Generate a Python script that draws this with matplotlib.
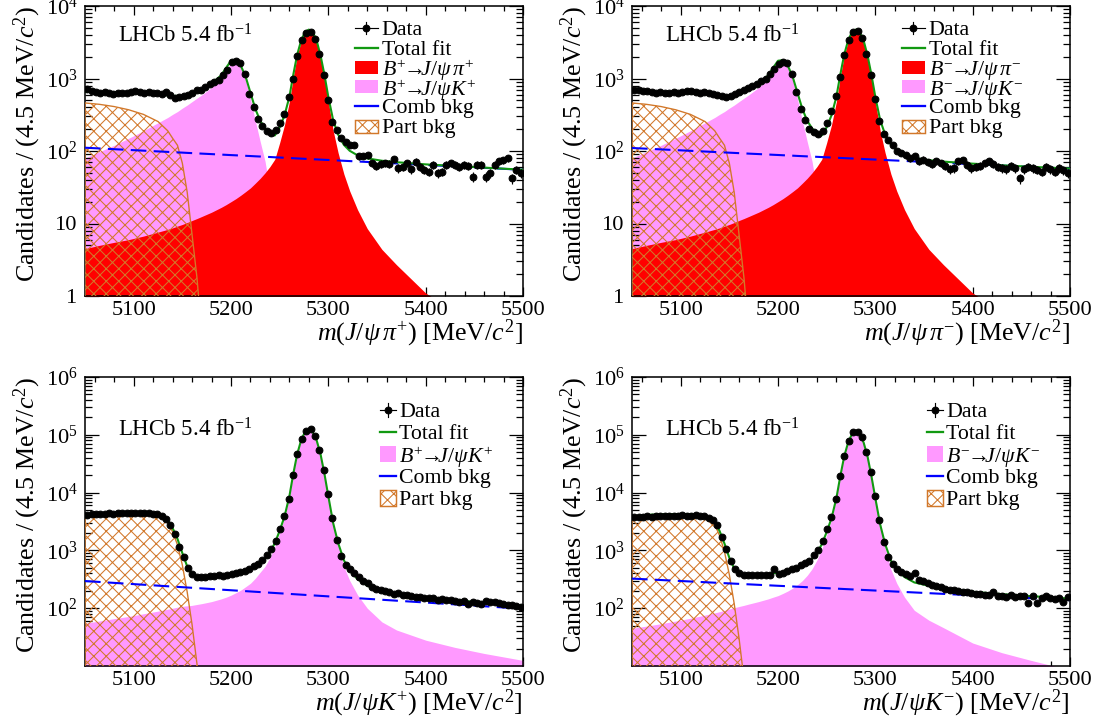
import numpy as np
import matplotlib
matplotlib.use("Agg")
import matplotlib.pyplot as plt
from matplotlib.patches import Rectangle
from matplotlib.lines import Line2D
from matplotlib.ticker import (FixedLocator, FixedFormatter, MultipleLocator,
                               LogLocator, NullFormatter, FormatStrFormatter)

# fonte tipo Times (estilo ROOT / LHCb)
plt.rcParams['font.family'] = ['Liberation Serif', 'DejaVu Serif']
plt.rcParams['mathtext.fontset'] = 'custom'
plt.rcParams['mathtext.rm'] = 'Liberation Serif'
plt.rcParams['mathtext.it'] = 'Liberation Serif:italic'
plt.rcParams['mathtext.bf'] = 'Liberation Serif:bold'
plt.rcParams['hatch.linewidth'] = 1.0
plt.rcParams['lines.scale_dashes'] = False

# ---------------------------------------------------------------
# DADOS
# ---------------------------------------------------------------
bin_width = 4.5
n_bins = 100

# pontos (massa) onde as curvas do ajuste foram lidas
mass_knots = [5050, 5065, 5080, 5095, 5110, 5125, 5135, 5140, 5145, 5150,
              5155, 5160, 5165, 5170, 5180, 5190, 5195, 5200, 5205, 5210,
              5215, 5220, 5225, 5230, 5235, 5240, 5245, 5250, 5255, 5260,
              5264, 5268, 5272, 5276, 5280, 5284, 5288, 5292, 5296, 5300,
              5305, 5310, 5316, 5322, 5330, 5340, 5355, 5370, 5400, 5430,
              5460, 5500]

# --- m(J/psi pi) : componentes comuns aos dois paineis de cima
sig_pi = [4.5, 5.0, 5.5, 6.0, 6.7, 7.6, 8.3, 8.7, 9.2, 9.7,
          10.3, 11.0, 11.7, 12.5, 14.3, 16.7, 18.2, 20, 22, 24.5,
          27.5, 31, 36, 42, 50, 61, 77, 130, 230, 480,
          1050, 2050, 3250, 4300, 4650, 4300, 3250, 2000, 1050, 480,
          190, 95, 48, 28, 15.5, 8.5, 4.4, 2.7, 1.1, 0.6,
          0.37, 0.2]
misid_k = [80, 98, 120, 150, 190, 245, 290, 320, 350, 390,
           430, 480, 535, 595, 750, 1000, 1300, 1650, 1680, 1400,
           950, 520, 260, 135, 72, 28, 5, 0.5, 0, 0,
           0, 0, 0, 0, 0, 0, 0, 0, 0, 0,
           0, 0, 0, 0, 0, 0, 0, 0, 0, 0,
           0, 0]
part_pi = [460, 440, 410, 370, 320, 255, 190, 150, 120, 68,
           27, 7, 1.8, 0.3, 0, 0, 0, 0, 0, 0,
           0, 0, 0, 0, 0, 0, 0, 0, 0, 0,
           0, 0, 0, 0, 0, 0, 0, 0, 0, 0,
           0, 0, 0, 0, 0, 0, 0, 0, 0, 0,
           0, 0]
comb_pip = [111, 108.4, 105.9, 103.5, 101.1, 98.7, 97.2, 96.5, 95.7, 95.0,
            94.2, 93.5, 92.8, 92.0, 90.6, 89.2, 88.5, 87.8, 87.2, 86.5,
            85.8, 85.2, 84.5, 83.9, 83.2, 82.6, 81.9, 81.3, 80.7, 80.0,
            79.5, 79.0, 78.5, 78.0, 77.5, 77.0, 76.6, 76.1, 75.6, 75.2,
            74.6, 74.0, 73.3, 72.6, 71.7, 70.6, 69.0, 67.4, 64.3, 61.4,
            58.6, 55]
comb_pim = [110, 107.6, 105.2, 102.9, 100.6, 98.4, 96.9, 96.2, 95.5, 94.8,
            94.1, 93.4, 92.7, 92.0, 90.7, 89.4, 88.7, 88.1, 87.4, 86.8,
            86.2, 85.5, 84.9, 84.3, 83.7, 83.1, 82.5, 81.9, 81.3, 80.7,
            80.2, 79.8, 79.3, 78.9, 78.4, 78.0, 77.5, 77.1, 76.6, 76.2,
            75.6, 75.1, 74.4, 73.8, 72.9, 71.9, 70.3, 68.7, 65.8, 62.9,
            60.2, 57]

data_pip = [720, 680, 660, 640, 650, 630, 620, 640, 630, 640,
            650, 680, 660, 640, 650, 630, 640, 620, 650, 600,
            540, 560, 580, 600, 640, 690, 700, 760, 830, 900,
            960, 1100, 1300, 1700, 1750, 1650, 1150, 620, 400, 280,
            220, 190, 175, 195, 240, 320, 560, 1000, 2050, 3400,
            4300, 4350, 3500, 2200, 1100, 500, 250, 195, 150, 135,
            120, 122, 85, 86, 88, 68, 62, 66, 68, 66,
            77, 58, 60, 68, 56, 71, 60, 55, 52, 65,
            49, 52, 65, 68, 64, 60, 65, 62, 44, 65,
            64, 44, 49, 64, 72, 74, 79, 42, 55, 50]
data_pim = [690, 700, 680, 670, 660, 640, 650, 640, 630, 650,
            640, 660, 680, 670, 650, 640, 650, 630, 620, 600,
            580, 560, 570, 610, 650, 700, 740, 800, 850, 920,
            1000, 1150, 1350, 1600, 1680, 1650, 1150, 650, 380, 270,
            200, 180, 170, 190, 240, 360, 580, 1050, 2100, 3400,
            4400, 4500, 3600, 2200, 1100, 520, 260, 170, 140, 120,
            100, 95, 88, 80, 84, 72, 76, 70, 66, 72,
            68, 62, 56, 58, 72, 75, 65, 58, 60, 62,
            68, 72, 66, 60, 58, 56, 62, 58, 42, 56,
            60, 58, 55, 52, 60, 56, 52, 58, 54, 50]

# --- m(J/psi K+)
sig_kp = [55, 60, 66, 72, 80, 89, 96, 100, 104, 108,
          110, 112, 116, 120, 130, 145, 155, 168, 185, 205,
          235, 270, 330, 420, 530, 750, 1150, 2000, 3700, 8500,
          21000, 46000, 80000, 112000, 125000, 112000, 80000, 46000, 21000, 8500,
          2800, 1200, 520, 300, 170, 100, 58, 42, 28, 21,
          16.5, 12.5]
part_kp = [3650, 3950, 4050, 4100, 4100, 3850, 3000, 2100, 1250, 560,
           190, 52, 11, 2, 0, 0, 0, 0, 0, 0,
           0, 0, 0, 0, 0, 0, 0, 0, 0, 0,
           0, 0, 0, 0, 0, 0, 0, 0, 0, 0,
           0, 0, 0, 0, 0, 0, 0, 0, 0, 0,
           0, 0]
comb_kp = [295, 284.4, 274.1, 264.2, 254.8, 245.6, 239.6, 236.7, 233.8, 231.0,
           228.2, 225.4, 222.7, 220.0, 214.7, 209.5, 207.0, 204.5, 202.0, 199.6,
           197.2, 194.8, 192.4, 190.1, 187.8, 185.5, 183.3, 181.1, 178.9, 176.7,
           175.0, 173.3, 171.6, 169.9, 168.3, 166.6, 165.0, 163.4, 161.8, 160.2,
           158.3, 156.3, 154.1, 151.8, 148.9, 145.3, 140.0, 134.9, 125.3, 116.4,
           108.1, 98]
data_kp = [4100, 4200, 4250, 4300, 4250, 4350, 4300, 4350, 4400, 4350,
           4400, 4450, 4400, 4350, 4400, 4300, 4250, 4000, 3500, 2800,
           1900, 1150, 780, 500, 390, 350, 345, 350, 355, 360,
           370, 365, 380, 390, 400, 420, 440, 480, 540, 580,
           680, 830, 1050, 1450, 2300, 3900, 7800, 20000, 46000, 84000,
           118000, 124000, 97000, 55000, 25000, 9500, 3600, 1500, 800, 560,
           470, 400, 350, 300, 270, 230, 215, 205, 195, 190,
           175, 180, 172, 168, 160, 155, 158, 150, 148, 150,
           140, 145, 140, 138, 135, 128, 132, 120, 130, 125,
           118, 132, 128, 130, 122, 118, 112, 115, 108, 104]

# --- m(J/psi K-)
sig_km = [45, 49, 54, 60, 67, 76, 83, 87, 92, 97,
          102, 107, 112, 118, 130, 145, 155, 165, 180, 198,
          222, 255, 300, 370, 480, 680, 1050, 1850, 3400, 7800,
          19000, 42000, 73000, 103000, 115000, 103000, 73000, 42000, 19000, 7800,
          2600, 1100, 470, 270, 155, 92, 62, 46, 25, 17,
          12.5, 8.5]
part_km = [3500, 3750, 3850, 3900, 3900, 3700, 2800, 1800, 950, 380,
           120, 30, 6, 1, 0, 0, 0, 0, 0, 0,
           0, 0, 0, 0, 0, 0, 0, 0, 0, 0,
           0, 0, 0, 0, 0, 0, 0, 0, 0, 0,
           0, 0, 0, 0, 0, 0, 0, 0, 0, 0,
           0, 0]
comb_km = [325, 315.9, 307.0, 298.3, 289.9, 281.7, 276.4, 273.8, 271.2, 268.6,
           266.1, 263.6, 261.1, 258.6, 253.7, 249.0, 246.6, 244.3, 242.0, 239.7,
           237.5, 235.2, 233.0, 230.8, 228.6, 226.5, 224.3, 222.2, 220.1, 218.0,
           216.4, 214.7, 213.1, 211.5, 209.9, 208.3, 206.7, 205.2, 203.6, 202.1,
           200.2, 198.3, 196.0, 193.8, 190.9, 187.3, 182.0, 176.9, 167.2, 158.0,
           149.3, 138]
data_km = [3800, 3750, 3850, 3900, 3850, 3950, 3900, 4000, 4000, 3950,
           4000, 4050, 4000, 3950, 4050, 3950, 3900, 3700, 3350, 2700,
           1700, 1050, 650, 470, 400, 380, 375, 370, 372, 368,
           380, 375, 470, 395, 410, 440, 470, 500, 560, 600,
           660, 820, 1000, 1450, 2300, 3800, 7600, 19000, 43000, 78000,
           110000, 113000, 90000, 50000, 23000, 8800, 3400, 1400, 760, 580,
           480, 420, 390, 360, 410, 310, 290, 270, 255, 240,
           230, 215, 210, 205, 195, 190, 188, 182, 178, 175,
           172, 168, 190, 160, 162, 158, 170, 155, 165, 160,
           125, 160, 122, 150, 165, 150, 145, 150, 128, 155]

# ---------------------------------------------------------------
# ESTILO
# ---------------------------------------------------------------
DPI = 75
W, H = 1107, 726
RED = '#ff0000'
PINK = '#ff99ff'
GREEN = '#119911'
BLUE = '#0000ff'
ORANGE = '#d2782a'
FS_TICK = 21.5
FS_TITLE = 25
FS_TEXT = 21
FLOOR = 1e-3

bins = 5050 + bin_width * (np.arange(n_bins) + 0.5)
knots = np.array(mass_knots, dtype=float)


def draw_legend(ax, entries, x0, y0, dy, hw, hh):
    tr = ax.transAxes
    for k, (kind, color, label) in enumerate(entries):
        yc = y0 - k * dy
        xm = x0 + hw / 2
        if kind == 'data':
            ax.add_line(Line2D([x0, x0 + hw], [yc, yc], color='k', lw=1.1,
                               transform=tr, clip_on=False))
            ax.add_line(Line2D([xm, xm], [yc - hh * 0.45, yc + hh * 0.45], color='k',
                               lw=1.1, transform=tr, clip_on=False))
            ax.add_line(Line2D([xm], [yc], marker='o', ms=6.5, color='k',
                               transform=tr, clip_on=False))
        elif kind == 'line':
            ax.add_line(Line2D([x0, x0 + hw], [yc, yc], color=color, lw=2.2,
                               transform=tr, clip_on=False))
        elif kind == 'box':
            ax.add_patch(Rectangle((x0, yc - hh / 2), hw, hh, facecolor=color,
                                   edgecolor='none', transform=tr, clip_on=False))
        elif kind == 'hatch':
            ax.add_patch(Rectangle((x0, yc - hh / 2), hw, hh, facecolor='none',
                                   edgecolor=color, hatch='xx', lw=1.4,
                                   transform=tr, clip_on=False))
        ax.text(x0 + hw + 0.008, yc, label, transform=tr, fontsize=FS_TEXT,
                ha='left', va='center_baseline')


def draw_panel(ax, data, sig, sig_color, misid, part, comb, top_row, xlabel,
               entries):
    sig = np.array(sig, dtype=float)
    part = np.array(part, dtype=float)
    comb = np.array(comb, dtype=float)
    total = sig + part + comb
    if misid is not None:
        misid = np.array(misid, dtype=float)
        total = total + misid
        ax.fill_between(knots, FLOOR, np.maximum(misid, FLOOR), color=PINK,
                        lw=0, zorder=1)
    ax.fill_between(knots, FLOOR, np.maximum(sig, FLOOR), color=sig_color,
                    lw=0, zorder=2)
    ax.fill_between(knots, FLOOR, np.maximum(part, FLOOR), facecolor='none',
                    edgecolor=ORANGE, hatch='xx', lw=1.3, zorder=3)
    ax.plot(knots, comb, color=BLUE, lw=2.0, dashes=(15, 7), zorder=4)
    ax.plot(knots, total, color=GREEN, lw=2.0, zorder=5)

    data = np.array(data, dtype=float)
    ax.errorbar(bins, data, yerr=np.sqrt(data), xerr=bin_width / 2, fmt='o',
                ms=6.5, color='k', ecolor='k', elinewidth=1.1, capsize=0, zorder=6)

    # eixos
    ax.set_yscale('log')
    if top_row:
        yticks = [1, 10, 100, 1000, 10000]
        ylabels = ['1', '10', '$10^{2}$', '$10^{3}$', '$10^{4}$']
        ylim = (1, 1e4)
    else:
        yticks = [1e2, 1e3, 1e4, 1e5, 1e6]
        ylabels = ['$10^{2}$', '$10^{3}$', '$10^{4}$', '$10^{5}$', '$10^{6}$']
        ylim = (10, 1e6)
    ax.yaxis.set_major_locator(FixedLocator(yticks))
    ax.yaxis.set_major_formatter(FixedFormatter(ylabels))
    ax.yaxis.set_minor_locator(LogLocator(base=10, subs=np.arange(2, 10), numticks=20))
    ax.yaxis.set_minor_formatter(NullFormatter())
    ax.xaxis.set_major_locator(FixedLocator([5100, 5200, 5300, 5400, 5500]))
    ax.xaxis.set_major_formatter(FormatStrFormatter('%d'))
    ax.xaxis.set_minor_locator(MultipleLocator(20))

    ax.tick_params(which='both', direction='in', top=True, right=True,
                   labelsize=FS_TICK, width=1.2)
    ax.tick_params(axis='x', which='major', length=9, pad=5)
    ax.tick_params(axis='x', which='minor', length=4.5)
    ax.tick_params(axis='y', which='major', length=13, pad=7)
    ax.tick_params(axis='y', which='minor', length=6.5)
    for s in ax.spines.values():
        s.set_linewidth(1.5)

    ax.text(1.0, -0.13, xlabel, transform=ax.transAxes, fontsize=FS_TITLE,
            ha='right', va='center')
    ax.text(-0.132, 1.0, r'Candidates / (4.5 MeV/$c^{2}$)', transform=ax.transAxes,
            fontsize=FS_TITLE, rotation=90, ha='center', va='top')

    if top_row:
        ax.text(0.075, 0.897, r'LHCb 5.4 fb$^{\mathregular{-1}}$', transform=ax.transAxes,
                fontsize=FS_TEXT + 1, ha='left', va='center')
        draw_legend(ax, entries, 0.616, 0.924, 0.0676, 0.053, 0.045)
    else:
        ax.text(0.075, 0.817, r'LHCb 5.4 fb$^{\mathregular{-1}}$', transform=ax.transAxes,
                fontsize=FS_TEXT + 1, ha='left', va='center')
        draw_legend(ax, entries, 0.673, 0.886, 0.076, 0.0365, 0.055)

    ax.set_xlim(5050, 5500)
    ax.set_ylim(*ylim)


fig = plt.figure(figsize=(W / DPI, H / DPI), dpi=DPI)


def add_panel(left, top, height):
    return fig.add_axes([left / W, 1 - (top + height) / H, 438 / W, height / H])


ax_pip = add_panel(85, 6, 290)
ax_pim = add_panel(632, 6, 290)
ax_kp = add_panel(85, 377, 289)
ax_km = add_panel(632, 377, 289)

draw_panel(ax_pip, data_pip, sig_pi, RED, misid_k, part_pi, comb_pip, True,
           r'$m(J/\psi\,\pi^{+})$ [MeV/$c^{2}$]',
           [('data', 'k', 'Data'), ('line', GREEN, 'Total fit'),
            ('box', RED, r'$B^{+}\!\!\rightarrow\!\!\!J/\psi\,\pi^{+}$'),
            ('box', PINK, r'$B^{+}\!\!\rightarrow\!\!\!J/\psi K^{+}$'),
            ('line', BLUE, 'Comb bkg'), ('hatch', ORANGE, 'Part bkg')])
draw_panel(ax_pim, data_pim, sig_pi, RED, misid_k, part_pi, comb_pim, True,
           r'$m(J/\psi\,\pi^{-})$ [MeV/$c^{2}$]',
           [('data', 'k', 'Data'), ('line', GREEN, 'Total fit'),
            ('box', RED, r'$B^{-}\!\!\rightarrow\!\!\!J/\psi\,\pi^{-}$'),
            ('box', PINK, r'$B^{-}\!\!\rightarrow\!\!\!J/\psi K^{-}$'),
            ('line', BLUE, 'Comb bkg'), ('hatch', ORANGE, 'Part bkg')])
draw_panel(ax_kp, data_kp, sig_kp, PINK, None, part_kp, comb_kp, False,
           r'$m(J/\psi K^{+})$ [MeV/$c^{2}$]',
           [('data', 'k', 'Data'), ('line', GREEN, 'Total fit'),
            ('box', PINK, r'$B^{+}\!\!\rightarrow\!\!\!J/\psi K^{+}$'),
            ('line', BLUE, 'Comb bkg'), ('hatch', ORANGE, 'Part bkg')])
draw_panel(ax_km, data_km, sig_km, PINK, None, part_km, comb_km, False,
           r'$m(J/\psi K^{-})$ [MeV/$c^{2}$]',
           [('data', 'k', 'Data'), ('line', GREEN, 'Total fit'),
            ('box', PINK, r'$B^{-}\!\!\rightarrow\!\!\!J/\psi K^{-}$'),
            ('line', BLUE, 'Comb bkg'), ('hatch', ORANGE, 'Part bkg')])

fig.savefig('out.png', dpi=DPI)
